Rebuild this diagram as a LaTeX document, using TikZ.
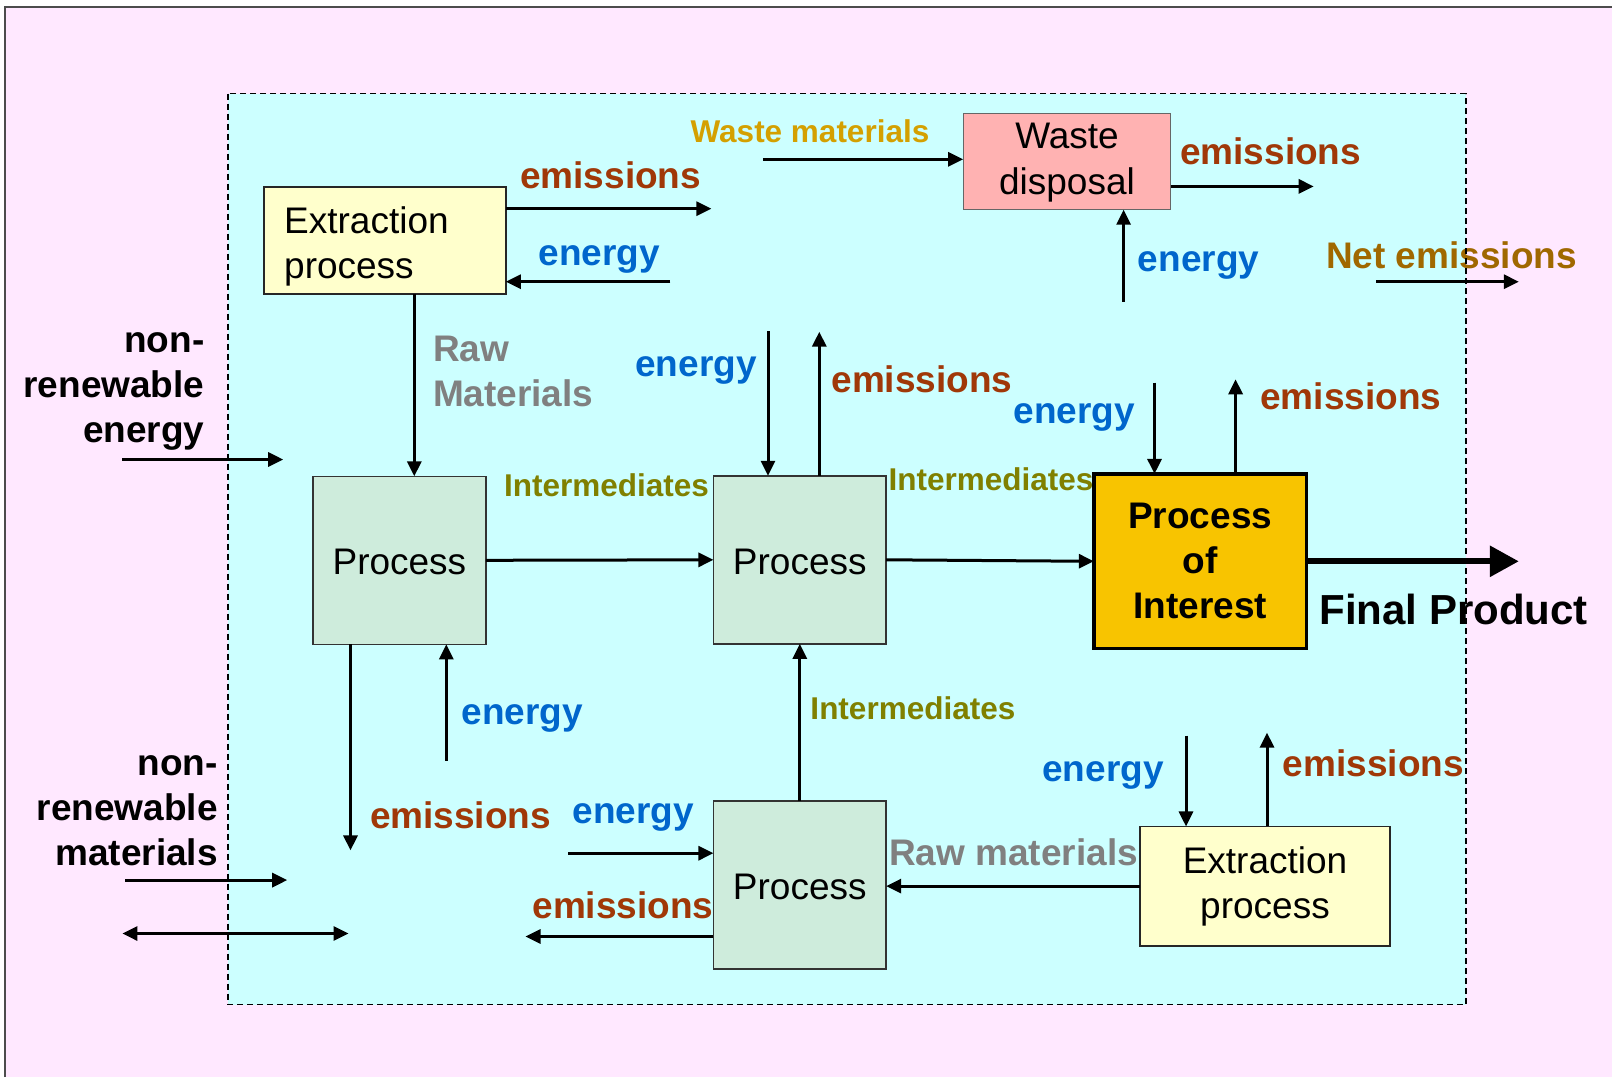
\documentclass[tikz,border=0pt]{standalone}
\usepackage{fontspec}
\setmainfont{Liberation Sans}
\usetikzlibrary{arrows.meta}

\definecolor{pagepink}{RGB}{255,232,255}
\definecolor{syscyan}{RGB}{204,255,255}
\definecolor{procgreen}{RGB}{206,236,220}
\definecolor{extryellow}{RGB}{255,255,204}
\definecolor{wastered}{RGB}{255,178,178}
\definecolor{poiorange}{RGB}{248,196,0}
\definecolor{emiscol}{RGB}{160,56,8}
\definecolor{energycol}{RGB}{0,102,204}
\definecolor{intercol}{RGB}{128,128,0}
\definecolor{wastecol}{RGB}{212,160,0}
\definecolor{netcol}{RGB}{160,104,0}
\definecolor{rawcol}{RGB}{128,128,128}

% move box text down without changing the box it sits in
\newcommand{\lowertext}[2]{\raisebox{-#1}[\height][\depth]{#2}}

\tikzset{
  big/.style={font=\fontsize{37}{45}\selectfont},
  mid/.style={font=\bfseries\fontsize{31.5}{38}\selectfont},
  anybox/.style={draw, inner sep=0pt, outer sep=0pt, align=center, big},
  procbox/.style={anybox, fill=procgreen, draw=black!80, line width=1.5pt,
    minimum width=172.7pt, minimum height=168pt},
  extrbox/.style={anybox, fill=extryellow, draw=black!85, line width=1.8pt},
  wastebox/.style={anybox, fill=wastered, draw=black!60, line width=1.2pt},
  poibox/.style={anybox, fill=poiorange, line width=3.5pt,
    font=\bfseries\fontsize{37}{45}\selectfont},
  lbl/.style={inner sep=0pt, font=\bfseries\fontsize{37}{45}\selectfont},
  emis/.style={lbl, text=emiscol},
  ener/.style={lbl, text=energycol},
  arr/.style={line width=3pt, -{Triangle[length=15pt,width=14pt]}},
  bigarr/.style={line width=6pt, -{Triangle[length=29pt,width=30pt]}},
}

\begin{document}
\begin{tikzpicture}[x=1pt,y=-1pt]
\useasboundingbox (0,0) rectangle (1612,1077);

% page and system boundary
\fill[white] (0,0) rectangle (1612,1077);
\fill[pagepink] (5,7) rectangle (1612,1077);
\draw[black!70, line width=1.2pt] (5,1077) -- (5,7) -- (1612,7);
\fill[syscyan] (228,93.5) rectangle (1466,1004.5);

% process boxes
\node[extrbox, minimum width=241.6pt, minimum height=107pt, inner xsep=20pt]
  (ext1) at (385,240.5) {\lowertext{5.5pt}{\parbox{201.6pt}{\raggedright Extraction\\process}}};
\node[wastebox, minimum width=207.7pt, minimum height=96.6pt] (waste) at (1067,161.4)
  {\lowertext{1pt}{\parbox{207pt}{\centering\fontsize{37}{46}\selectfont Waste\\disposal}}};
\node[procbox] (p1) at (399.4,560.3) {\lowertext{2pt}{Process}};
\node[procbox] (p2) at (799.8,559.8) {\lowertext{2pt}{Process}};
\node[procbox] (p3) at (799.8,885.1) {\lowertext{2pt}{Process}};
\node[poibox, minimum width=212.8pt, minimum height=174.8pt] (poi) at (1200.2,561.3) {Process\\of\\Interest};
\node[extrbox, minimum width=249.9pt, minimum height=119.3pt] (ext2) at (1265,886.1) {Extraction\\process};

% free ends of the flows
\coordinate (ext1em) at (711.4,208.7);
\coordinate (ext1en) at (670.3,281.7);
\coordinate (rawx)   at (414.3,380);
\coordinate (wm)     at (762.8,159.3);
\coordinate (wem)    at (1313.7,186.4);
\coordinate (wen)    at (1123.6,301.7);
\coordinate (net1)   at (1376.4,281.7);
\coordinate (net2)   at (1518.8,281.7);
\coordinate (nre1)   at (122.4,459.5);
\coordinate (nre2)   at (283.2,459.5);
\coordinate (p2en)   at (768,331);
\coordinate (p2em)   at (819.3,331.7);
\coordinate (poien)  at (1154.5,382.7);
\coordinate (poiem)  at (1235.6,379.3);
\coordinate (fp)     at (1518.8,561.3);
\coordinate (p1em)   at (350.5,850.4);
\coordinate (p1en)   at (446.3,760.6);
\coordinate (p3en)   at (568.4,853.2);
\coordinate (p3em)   at (525.5,936.5);
\coordinate (nrm1)   at (125,880.1);
\coordinate (nrm2)   at (287.2,880.1);
\coordinate (dbl1)   at (122.4,933.5);
\coordinate (dbl2)   at (348.5,933.5);
\coordinate (x2en)   at (1186,735.5);
\coordinate (x2em)   at (1267,732.6);

% flows
\draw[arr] (ext1.east |- ext1em) -- (ext1em);
\draw[arr] (ext1en) -- (ext1.east |- ext1en);
\draw[arr] (ext1.south -| rawx) -- (p1.north -| rawx);
\draw[arr] (wm) -- (waste.west |- wm);
\draw[arr] (waste.east |- wem) -- (wem);
\draw[arr] (wen) -- (waste.south -| wen);
\draw[arr] (net1) -- (net2);
\draw[arr] (nre1) -- (nre2);
\draw[arr] (p1.east) -- (p2.west);
\draw[arr] (p2en) -- (p2.north -| p2en);
\draw[arr] (p2.north -| p2em) -- (p2em);
\draw[arr] (p2.east) -- (poi.west);
\draw[arr] (poien) -- (poi.north -| poien);
\draw[arr] (poi.north -| poiem) -- (poiem);
\draw[bigarr] (poi.east) -- (fp);
\draw[arr] (p1.south -| p1em) -- (p1em);
\draw[arr] (p1en) -- (p1.south -| p1en);
\draw[arr] (p3.north) -- (p2.south);
\draw[arr] (p3en) -- (p3.west |- p3en);
\draw[arr] (p3.west |- p3em) -- (p3em);
\draw[arr] (nrm1) -- (nrm2);
\draw[line width=3pt, {Triangle[length=15pt,width=14pt]}-{Triangle[length=15pt,width=14pt]}] (dbl1) -- (dbl2);
\draw[arr] (ext2.west) -- (p3.east |- ext2.west);
\draw[arr] (x2en) -- (ext2.north -| x2en);
\draw[arr] (ext2.north -| x2em) -- (x2em);

% labels
\node[mid, text=wastecol] (lwm) at (810,131.6) {Waste materials};
\node[emis] (l1) at (610.6,174.8) {emissions};
\node[ener] (l2) at (599.3,259) {energy};
\node[lbl, text=rawcol, align=left, anchor=west] (l3) at (432.8,371.5) {Raw\\Materials};
\node[ener] (l4) at (696,370) {energy};
\node[emis] (l5) at (922,379.3) {emissions};
\node[ener] (l6) at (1074.3,417.2) {energy};
\node[emis] (l7) at (1350.8,395.8) {emissions};
\node[emis] (l8) at (1270.6,151.1) {emissions};
\node[ener] (l9) at (1198.6,265) {energy};
\node[lbl, text=netcol] (l10) at (1451.5,255) {Net emissions};
\node[mid, text=intercol] (l11) at (606.5,485.2) {Intermediates};
\node[mid, text=intercol] (l12) at (991,479) {Intermediates};
\node[mid, text=intercol] (l13) at (912.9,708.3) {Intermediates};
\node[lbl, font=\bfseries\fontsize{42}{50}\selectfont] (l14) at (1453.6,609.6) {Final Product};
\node[ener] (l15) at (522.2,718.4) {energy};
\node[emis] (l16) at (460.5,815.2) {emissions};
\node[ener] (l17) at (633.2,817.5) {energy};
\node[emis] (l18) at (623,905.7) {emissions};
\node[lbl, text=rawcol] (l19) at (1013.6,852.2) {Raw materials};
\node[ener] (l20) at (1103,775.5) {energy};
\node[emis] (l21) at (1373.4,762.8) {emissions};
\node[lbl, align=right, anchor=east] (l22) at (204.6,391.5) {non-\\renewable\\energy};
\node[lbl, align=right, anchor=east] (l23) at (218,811) {non-\\renewable\\materials};

% system boundary outline
\draw[line width=1.5pt, dash pattern=on 6pt off 4pt] (228,93.5) rectangle (1466,1004.5);
\end{tikzpicture}
\end{document}
